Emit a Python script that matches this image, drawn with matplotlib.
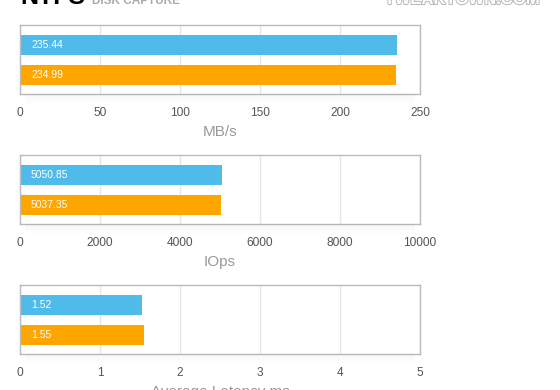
import matplotlib.pyplot as plt
import matplotlib.patheffects as pe
from matplotlib.patches import Rectangle

plt.rcParams['font.family'] = ['Liberation Sans', 'DejaVu Sans']

# data
series_colors = ['#4fbbeb', '#ffa500']
mbs = [235.44, 234.99]
iops = [5050.85, 5037.35]
latency = [1.52, 1.55]

panels = [
    (mbs, 'MB/s', 250, [0, 50, 100, 150, 200, 250]),
    (iops, 'IOps', 10000, [0, 2000, 4000, 6000, 8000, 10000]),
    (latency, 'Average Latency ms', 5, [0, 1, 2, 3, 4, 5]),
]

W, H = 560, 390
fig = plt.figure(figsize=(W / 100, H / 100), dpi=100)
fig.patch.set_facecolor('white')

# box tops in pixels
box_tops = [25, 155, 285]
box_h = 69
left, right = 20, 420

for (vals, label, xmax, ticks), top in zip(panels, box_tops):
    bottom = H - top - box_h
    # soft shadow under the box
    for i in range(10):
        fig.patches.append(Rectangle(((left + 5) / W, (bottom - i - 1) / H),
                                     (right - left - 10) / W, 1 / H,
                                     transform=fig.transFigure,
                                     color='black', alpha=0.03 * (1 - i / 10),
                                     lw=0, zorder=0))
    ax = fig.add_axes([left / W, bottom / H, (right - left) / W, box_h / H])
    ax.barh([0, 1], vals, height=0.667, color=series_colors, zorder=2)
    for i, v in enumerate(vals):
        ax.text(xmax * 0.0275, i, '{:.2f}'.format(v), color='white', fontsize=7.5,
                va='center', ha='left', zorder=3)
    ax.set_xlim(0, xmax)
    ax.set_ylim(1.633, -0.667)
    ax.set_xticks(ticks)
    ax.set_xticklabels([str(t) for t in ticks])
    ax.set_yticks([])
    ax.tick_params(axis='x', length=0, pad=9, labelsize=8.6, labelcolor='#555555')
    ax.grid(axis='x', color='#e6e6e6', linewidth=1, zorder=0)
    ax.set_axisbelow(True)
    for s in ax.spines.values():
        s.set_color('#bbbbbb')
        s.set_linewidth(1)
    ax.set_xlabel(label, fontsize=11, color='#999999', labelpad=5)

# header, cut off at the top
fig.text(20 / W, 1 - 4 / H, 'NTFS', fontsize=18, fontweight='bold',
         color='black', va='baseline', ha='left')
fig.text(92 / W, 1 - 4 / H, 'DISK CAPTURE', fontsize=8.5, fontweight='bold',
         color='#aaaaaa', va='baseline', ha='left')
fig.text(539 / W, 1 - 4 / H, 'TWEAKTOWN.COM', fontsize=12, fontweight='bold',
         color='white', va='baseline', ha='right',
         path_effects=[pe.withStroke(linewidth=1.5, foreground='#bbbbbb')])

fig.savefig('out.png', dpi=100)
